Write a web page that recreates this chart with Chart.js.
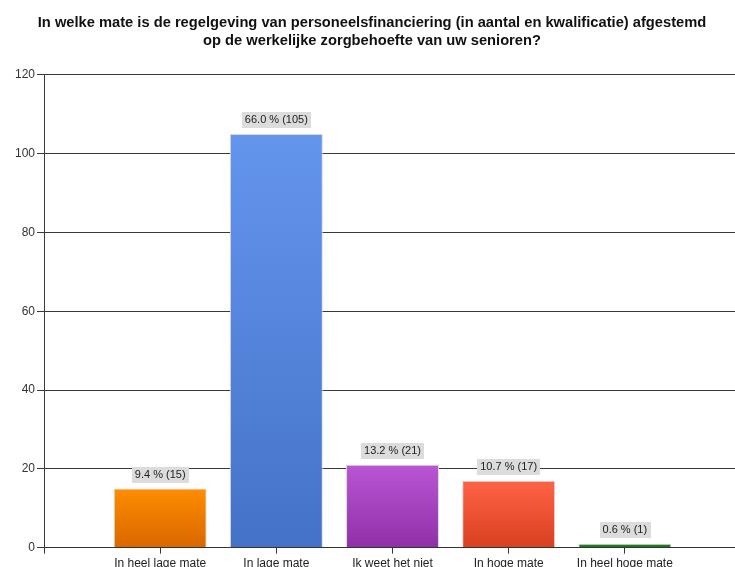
<!DOCTYPE html>
<html>
<head>
<meta charset="utf-8">
<script src="https://cdn.jsdelivr.net/npm/chart.js@4.4.1/dist/chart.umd.min.js"></script>
<style>
  html, body { margin: 0; padding: 0; background: #fff; overflow: hidden; }
  #wrap { width: 735px; height: 567px; overflow: hidden; }
  canvas { display: block; }
</style>
</head>
<body>
<div id="wrap"><canvas id="c" width="744" height="574"></canvas></div>
<script>
// Survey answers and counts
const categories = ['In heel lage mate', 'In lage mate', 'Ik weet het niet', 'In hoge mate', 'In heel hoge mate'];
const counts = [15, 105, 21, 17, 1];
const percents = [9.4, 66.0, 13.2, 10.7, 0.6];
const yTicks = [0, 20, 40, 60, 80, 100, 120];

// Top / bottom colours of each bar's vertical gradient
const topColors = ['#ff8c00', '#6495ed', '#ba55d3', '#ff6347', '#228b22'];
const bottomColors = ['#d86800', '#4472c8', '#9030a8', '#d8401f', '#1a701a'];

// The axis has an empty slot before and after the answers
const labels = [''].concat(categories, ['']);
const values = [null].concat(counts, [null]);

function barGradient(ctx) {
  const chart = ctx.chart;
  const i = ctx.dataIndex - 1;
  if (i < 0 || i >= categories.length || !chart.chartArea) return topColors[0];
  const y = chart.scales.y;
  const top = y.getPixelForValue(counts[i]);
  const bottom = y.getPixelForValue(0);
  const g = chart.ctx.createLinearGradient(0, top, 0, Math.max(bottom, top + 1));
  g.addColorStop(0, topColors[i]);
  g.addColorStop(1, bottomColors[i]);
  return g;
}

// Grey value boxes above every bar
const valueBoxes = {
  id: 'valueBoxes',
  afterDatasetsDraw(chart) {
    const ctx = chart.ctx;
    const meta = chart.getDatasetMeta(0);
    ctx.save();
    ctx.font = '11px "Liberation Sans", Arial, sans-serif';
    ctx.textAlign = 'center';
    ctx.textBaseline = 'middle';
    meta.data.forEach((bar, idx) => {
      const i = idx - 1;
      if (i < 0 || i >= categories.length) return;
      const text = percents[i].toFixed(1) + ' % (' + counts[i] + ')';
      const w = ctx.measureText(text).width + 6;
      const h = 16;
      const bottom = bar.y - 6;
      ctx.fillStyle = '#dcdcdc';
      ctx.fillRect(Math.round(bar.x - w / 2), Math.round(bottom - h), Math.round(w), h);
      ctx.fillStyle = '#222';
      ctx.fillText(text, bar.x, bottom - h / 2 + 0.5);
    });
    ctx.restore();
  }
};

new Chart(document.getElementById('c'), {
  type: 'bar',
  data: {
    labels: labels,
    datasets: [{
      data: values,
      backgroundColor: barGradient,
      borderColor: '#d8d8d8',
      borderWidth: 1,
      borderSkipped: 'bottom',
      barPercentage: 1,
      categoryPercentage: 0.8
    }]
  },
  options: {
    responsive: false,
    animation: false,
    devicePixelRatio: 1,
    layout: { padding: 0 },
    plugins: {
      legend: { display: false },
      tooltip: { enabled: false },
      title: {
        display: true,
        text: ['In welke mate is de regelgeving van personeelsfinanciering (in aantal en kwalificatie) afgestemd',
               'op de werkelijke zorgbehoefte van uw senioren?'],
        color: '#111',
        font: { family: '"Liberation Sans", Arial, sans-serif', size: 14.7, weight: 'bold', lineHeight: 1.22 },
        padding: { top: 14, bottom: 25 }
      }
    },
    scales: {
      x: {
        offset: false,
        grid: { offset: false, drawOnChartArea: false, drawTicks: true, tickLength: 6, color: '#333' },
        border: { display: true, color: '#333' },
        ticks: {
          autoSkip: false,
          maxRotation: 0,
          padding: 3,
          color: '#222',
          font: { family: '"Liberation Sans", Arial, sans-serif', size: 12 }
        }
      },
      y: {
        min: 0,
        max: 120,
        afterBuildTicks(scale) { scale.ticks = yTicks.map(v => ({ value: v })); },
        // leave room left of the tick labels
        afterFit(scale) { scale.width += 13; },
        grid: { color: '#3a3a3a', tickLength: 7, lineWidth: 1 },
        border: { display: true, color: '#3a3a3a' },
        ticks: {
          padding: 2,
          color: '#333',
          font: { family: '"Liberation Sans", Arial, sans-serif', size: 12 }
        }
      }
    }
  },
  plugins: [valueBoxes]
});
</script>
</body>
</html>
